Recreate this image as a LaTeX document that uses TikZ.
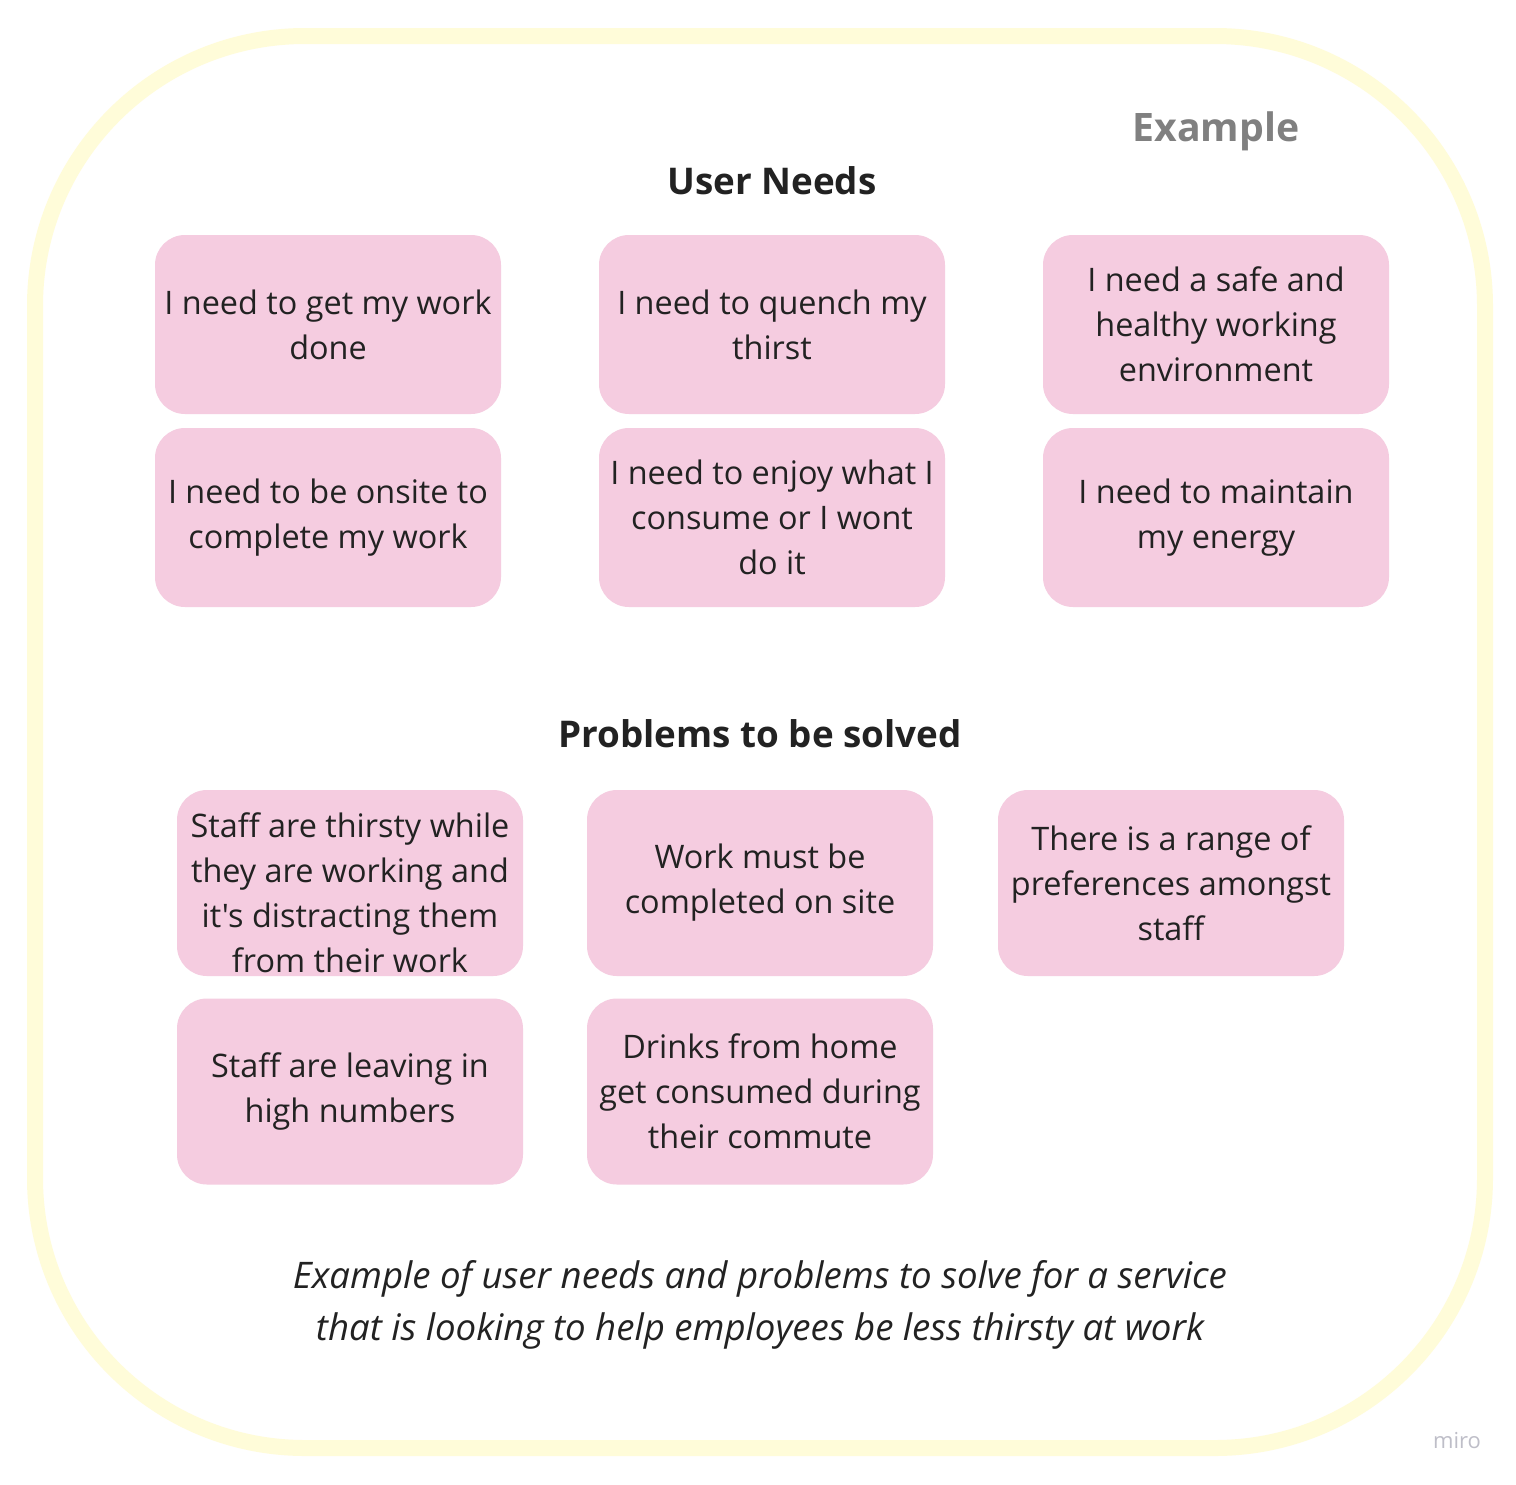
\documentclass[tikz,border=0pt]{standalone}
\usepackage{fontspec}
\setmainfont{Open Sans}[Ligatures=TeXOff]
\definecolor{frame}{RGB}{255,252,217}
\definecolor{sticky}{RGB}{245,204,224}
\definecolor{ink}{RGB}{34,34,34}
\definecolor{grayex}{RGB}{128,128,128}
\definecolor{mirogray}{RGB}{190,190,200}
\tikzset{
  sticky/.style={fill=sticky, draw=none, rounded corners=15pt, minimum width=173pt, minimum height=89.5pt,
    align=center, text=ink, font=\fontsize{16.2}{22.5}\selectfont, inner sep=0pt},
  stickyP/.style={sticky, minimum height=93pt},
  heading/.style={font=\fontsize{18.4}{22}\bfseries\selectfont, text=ink},
}
\begin{document}
\begin{tikzpicture}[x=0.5pt,y=-0.5pt]
\useasboundingbox (0,0) rectangle (1516,1484);
\fill[white] (0,0) rectangle (1516,1484);
\draw[frame, line width=8pt, rounded corners=135pt] (35,36) rectangle (1485,1448);

\node[text=grayex, font=\fontsize{19.6}{22}\bfseries\selectfont] (example) at (1216,131) {Example};
\node[heading] (userneeds) at (772,181) {User Needs};

\node[sticky] (n1) at (328,324.5) {I need to get my work\\done};
\node[sticky] (n2) at (772,324.5) {I need to quench my\\thirst};
\node[sticky] (n3) at (1216,324.5) {I need a safe and\\healthy working\\environment};
\node[sticky] (n4) at (328,517.5) {I need to be onsite to\\complete my work};
\node[sticky] (n5) at (772,517.5) {I need to enjoy what I\\consume or I wont\\do it};
\node[sticky] (n6) at (1216,517.5) {I need to maintain\\my energy};

\node[heading] (problems) at (760,734) {Problems to be solved};

\node[stickyP, path picture={\node[align=center, text=ink, font=\fontsize{16.2}{22.5}\selectfont, inner sep=0pt] at ([yshift=-5pt]path picture bounding box.center) {Staff are thirsty while\\they are working and\\it's distracting them\\from their work};}] (p1) at (350,883) {};
\node[stickyP] (p2) at (760,883) {Work must be\\completed on site};
\node[stickyP] (p3) at (1171,883) {There is a range of\\preferences amongst\\staff};
\node[stickyP] (p4) at (350,1091.5) {Staff are leaving in\\high numbers};
\node[stickyP] (p5) at (760,1091.5) {Drinks from home\\get consumed during\\their commute};

\node[align=center, text=ink, font=\fontsize{18.3}{26}\itshape\selectfont] (caption) at (760,1305) {Example of user needs and problems to solve for a service\\that is looking to help employees be less thirsty at work};

\node[text=mirogray, font=\fontsize{11}{13}\selectfont] (miro) at (1457,1441) {miro};
\end{tikzpicture}
\end{document}
